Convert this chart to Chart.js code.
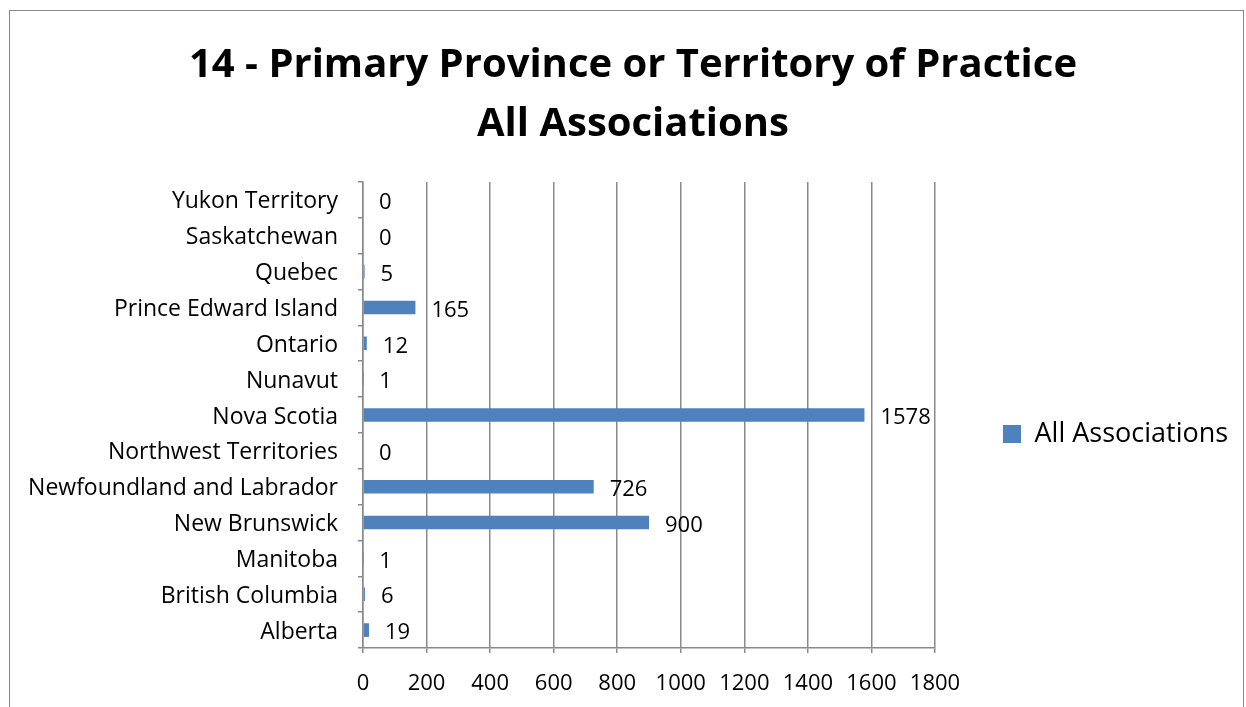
<!DOCTYPE html>
<html>
<head>
<meta charset="utf-8">
<title>14 - Primary Province or Territory of Practice</title>
<script src="https://cdn.jsdelivr.net/npm/chart.js@4.4.1/dist/chart.umd.min.js"></script>
<style>
	html, body { margin: 0; padding: 0; background: #fff; overflow: hidden; }
	#wrap { position: relative; width: 1246px; height: 707px; }
	#frame { position: absolute; left: 9px; top: 10px; width: 1235px; height: 760px; border: 1px solid #888; box-sizing: border-box; }
	#box { position: absolute; left: 0; top: 0; width: 1246px; height: 707px; }
</style>
</head>
<body>
<div id="wrap">
	<div id="frame"></div>
	<div id="box"><canvas id="myChart"></canvas></div>
</div>
<script>
// data, top to bottom as in the chart
const provinces = [
	'Yukon Territory', 'Saskatchewan', 'Quebec', 'Prince Edward Island', 'Ontario',
	'Nunavut', 'Nova Scotia', 'Northwest Territories', 'Newfoundland and Labrador',
	'New Brunswick', 'Manitoba', 'British Columbia', 'Alberta'
];
const counts = [0, 0, 5, 165, 12, 1, 1578, 0, 726, 900, 1, 6, 19];
const seriesName = 'All Associations';
const titleLines = ['14 - Primary Province or Territory of Practice', 'All Associations'];

const gridGray = '#8a8a8a';
const barBlue = '#4F81BD';

Chart.defaults.font.family = '"Open Sans"';
Chart.defaults.color = '#000';

// values next to the bars
const valueLabels = {
	id: 'valueLabels',
	afterDatasetsDraw(chart) {
		let ctx = chart.ctx;
		let meta = chart.getDatasetMeta(0);
		ctx.save();
		ctx.font = '22px "Open Sans"';
		ctx.fillStyle = '#000';
		ctx.textAlign = 'left';
		ctx.textBaseline = 'middle';
		meta.data.forEach(function (bar, i) {
			ctx.fillText(String(counts[i]), bar.x + 16, bar.y + 3);
		});
		ctx.restore();
	}
};

// legend sits in a fixed-width column to the right of the plot
const legendPlace = {
	id: 'legendPlace',
	beforeLayout(chart) {
		let lg = chart.legend;
		if (lg && !lg._fixedFit) {
			let fit = lg.fit.bind(lg);
			lg.fit = function () { fit(); this.width = 311; };
			lg._fixedFit = true;
		}
	},
	afterLayout(chart) {
		let lg = chart.legend;
		let w = lg.right - lg.left;
		lg.left = chart.chartArea.right + 58;
		lg.right = lg.left + w;
		lg.top += 19;
		lg.bottom += 19;
	}
};

let ctx = document.getElementById('myChart').getContext('2d');
let myChart = new Chart(ctx, {
	type: 'bar',
	data: {
		labels: provinces,
		datasets: [
			{
				label             : seriesName,
				data              : counts,
				backgroundColor   : barBlue,
				borderWidth       : 0,
				categoryPercentage: 1,
				barPercentage     : 0.38
			}
		]
	},
	options: {
		indexAxis          : 'y',
		responsive         : true,
		maintainAspectRatio: false,
		animation          : false,
		layout: { padding: { left: 20, right: 0, top: 0, bottom: 0 } },
		plugins: {
			title: {
				display: true,
				text   : titleLines,
				color  : '#000',
				font   : { size: 40, weight: 'bold', lineHeight: 59 / 40 },
				padding: { top: 36, bottom: 28 }
			},
			legend: {
				position: 'right',
				fullSize: false,
				labels  : {
					boxWidth : 18,
					boxHeight: 18,
					font     : { size: 27 },
					padding  : 10
				}
			},
			tooltip: { enabled: false }
		},
		scales: {
			x: {
				min: 0,
				max: 1800,
				ticks: {
					stepSize: 200,
					font    : { size: 22 },
					padding : 18,
					callback: function (value) { return String(value); }
				},
				grid  : { color: gridGray, lineWidth: 1.5, tickLength: 5 },
				border: { color: gridGray, width: 1.5 },
				afterFit: function (scale) { scale.height = 59; }
			},
			y: {
				ticks : { font: { size: 23 }, padding: 20, autoSkip: false, labelOffset: 2 },
				grid  : { drawOnChartArea: false, color: gridGray, lineWidth: 1.5, tickLength: 5 },
				border: { color: gridGray, width: 1.5 },
				afterFit: function (scale) { scale.width = 343; }
			}
		}
	},
	plugins: [valueLabels, legendPlace]
});
</script>
</body>
</html>
